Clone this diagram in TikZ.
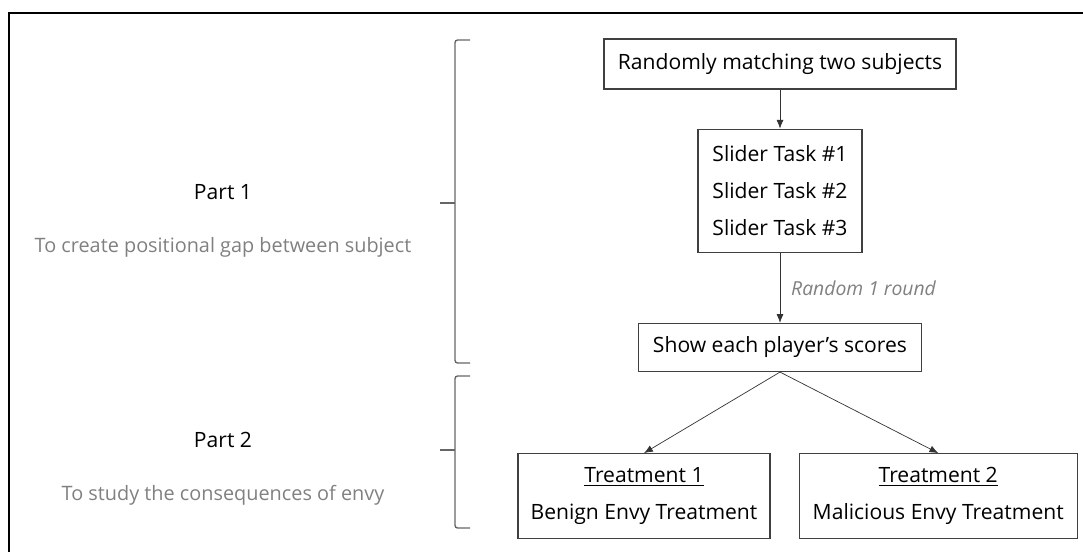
\documentclass[tikz,border=0pt]{standalone}
\usepackage{fontspec}
\setmainfont{Open Sans}
\usetikzlibrary{positioning,arrows.meta}

\begin{document}
\begin{tikzpicture}[align=center, >={Latex[length=5pt,width=4pt]},
    box/.style={draw=black!75, line width=0.7pt, inner sep=0pt, text=black, font=\fontsize{12}{21}\selectfont},
    note/.style={text=black!50, font=\fontsize{11.3}{14}\selectfont},
    curly/.style={draw=black!60, line width=0.8pt, rounded corners=1.5pt}]

    \useasboundingbox (0,0) rectangle (21.66,-11.02);
    \draw[line width=1.1pt] (0.18,-11.5) -- (0.18,-0.26) -- (22,-0.26);

    \node [box, minimum width=7.04cm, minimum height=1cm] (match) at (15.6,-1.28) {Randomly matching two subjects};
    \node [box, below=0.78cm of match, minimum width=3.28cm, minimum height=2.46cm] (slider) {Slider Task \#1\\Slider Task \#2\\Slider Task \#3};
    \node [box, below=1.4cm of slider, minimum width=5.66cm, minimum height=0.96cm] (scores) {Show each player’s scores};
    \node [box, below=1.62cm of scores, xshift=-2.72cm, minimum width=5.04cm, minimum height=1.7cm] (benign) {\underline{Treatment 1}\\Benign Envy Treatment};
    \node [box, right=0.56cm of benign, minimum width=5.56cm, minimum height=1.7cm] (malicious) {\underline{Treatment 2}\\Malicious Envy Treatment};

    \draw[->, black!80] (match) -- (slider);
    \draw[->, black!80] (slider) -- node[right, note, font=\fontsize{11}{14}\selectfont\itshape, xshift=1mm] {Random 1 round} (scores);
    \draw[->, black!80] (scores.south) -- (benign.north);
    \draw[->, black!80] (scores.south) -- (malicious.north);

    \node [text=black, font=\fontsize{12}{14}\selectfont] (part1) at (4.46,-3.84) {Part 1};
    \node [note, below=0.5cm of part1] (aim1) {To create positional gap between subject};
    \node [text=black, font=\fontsize{12}{14}\selectfont] (part2) at (4.46,-8.8) {Part 2};
    \node [note, below=0.5cm of part2] (aim2) {To study the consequences of envy};

    % brackets for the two parts
    \coordinate (p1top) at (9.4,-0.8);
    \coordinate (p1bot) at (9.4,-7.26);
    \coordinate (p1tip) at (8.8,-4.06);
    \coordinate (p2top) at (9.4,-7.52);
    \coordinate (p2bot) at (9.4,-10.56);
    \coordinate (p2tip) at (8.8,-9.0);
    \draw[curly] (p1top) -- ++(-0.3,0) -- ++(0,-6.46) -- (p1bot);
    \draw[curly] (p1tip) -- ++(0.3,0);
    \draw[curly] (p2top) -- ++(-0.3,0) -- ++(0,-3.04) -- (p2bot);
    \draw[curly] (p2tip) -- ++(0.3,0);

\end{tikzpicture}
\end{document}
